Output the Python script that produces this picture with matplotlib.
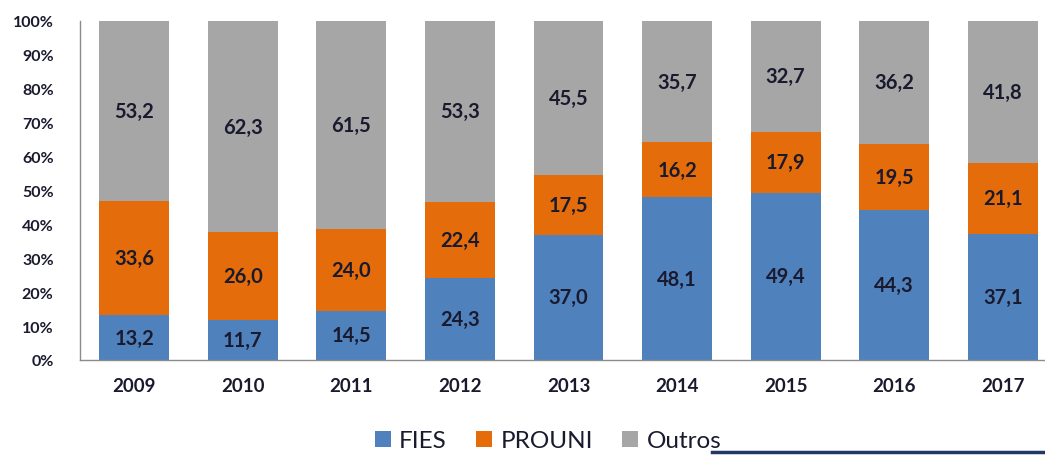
import numpy as np
import matplotlib.pyplot as plt
from matplotlib.lines import Line2D

# data (percent shares)
anos = ['2009', '2010', '2011', '2012', '2013', '2014', '2015', '2016', '2017']
fies = [13.2, 11.7, 14.5, 24.3, 37.0, 48.1, 49.4, 44.3, 37.1]
prouni = [33.6, 26.0, 24.0, 22.4, 17.5, 16.2, 17.9, 19.5, 21.1]
outros = [53.2, 62.3, 61.5, 53.3, 45.5, 35.7, 32.7, 36.2, 41.8]

cores = ['#4F81BD', '#E46C0A', '#A6A6A6']
nomes = ['FIES', 'PROUNI', 'Outros']
txt = '#1a1a2e'

plt.rcParams['font.family'] = ['Lato', 'DejaVu Sans']

fig = plt.figure(figsize=(10.45, 4.56), dpi=100)
ax = fig.add_axes([80/1045, 95/456, 977/1045, 339/456])

x = np.arange(len(anos))
base = np.zeros(len(anos))
for serie, cor, nome in zip([fies, prouni, outros], cores, nomes):
    vals = np.array(serie)
    bars = ax.bar(x, vals, 0.644, bottom=base, color=cor, label=nome)
    for xi, b, v in zip(x, base, vals):
        ax.text(xi, b + v / 2, ('%.1f' % v).replace('.', ','),
                ha='center', va='center', fontsize=14.5,
                fontweight='bold', color=txt)
    base += vals

ax.set_xlim(-0.5, 8.5)
ax.set_ylim(0, 100)
ax.set_yticks(np.arange(0, 101, 10))
ax.set_yticklabels(['%d%%' % v for v in range(0, 101, 10)],
                   fontsize=11.5, fontweight='bold', color=txt)
ax.set_xticks(x)
ax.set_xticklabels(anos, fontsize=13.5, fontweight='bold', color=txt)
ax.tick_params(axis='both', length=0)
ax.tick_params(axis='y', pad=19)
ax.tick_params(axis='x', pad=12)
for s in ['top', 'right']:
    ax.spines[s].set_visible(False)
for s in ['left', 'bottom']:
    ax.spines[s].set_color('#8c8c8c')
    ax.spines[s].set_linewidth(1)

fig.legend(loc='center', bbox_to_anchor=(548/1045, 1 - 442/456), ncol=3,
           frameon=False, fontsize=17.5, handlelength=0.65, handleheight=0.65,
           handletextpad=0.35, columnspacing=1.2, labelcolor=txt)

# decorative line under the legend
fig.add_artist(Line2D([712/1045, 1.0], [1 - 453/456, 1 - 453/456],
                      transform=fig.transFigure, color='#1F3864', lw=2.5))

fig.savefig('out.png', dpi=100)
